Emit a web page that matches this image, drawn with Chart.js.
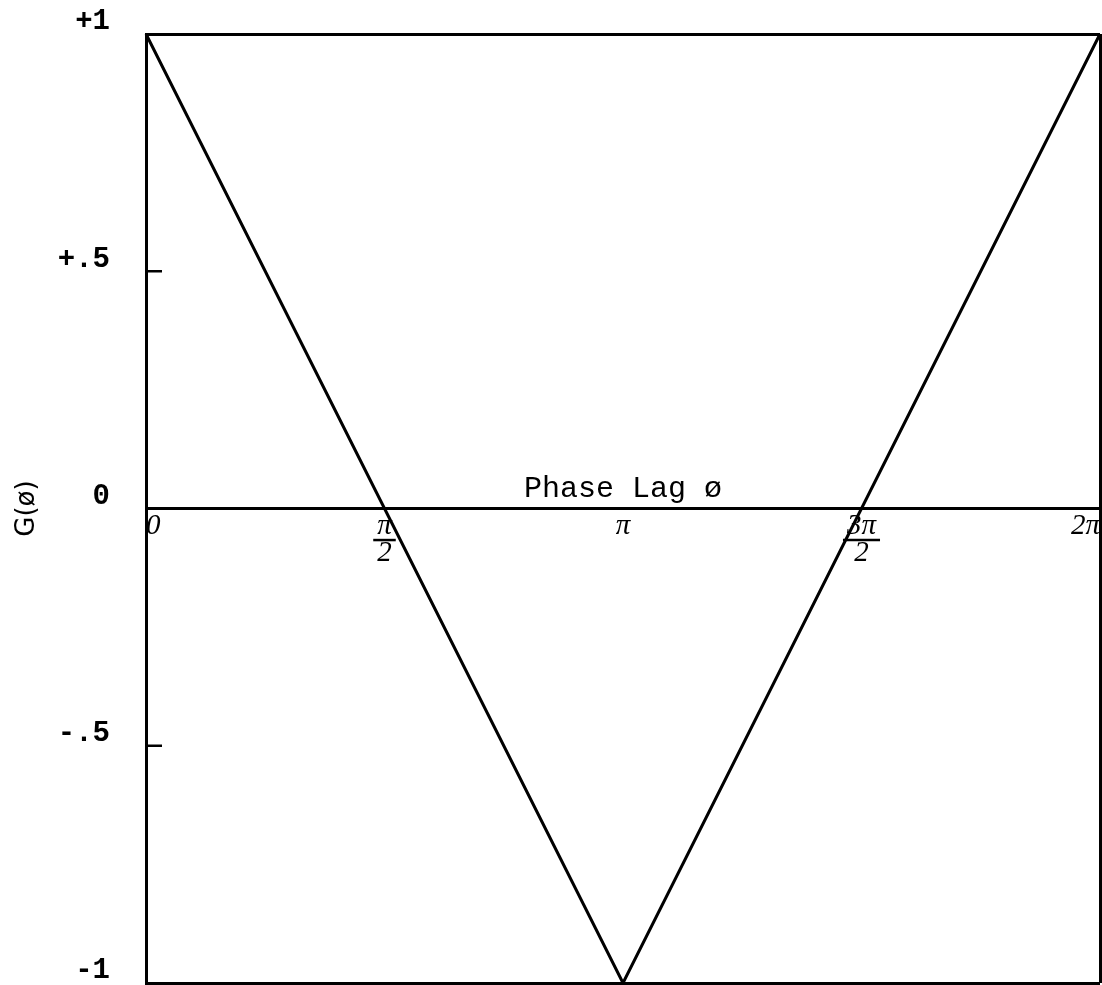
<!DOCTYPE html>
<html>
<head>
<meta charset="utf-8">
<script src="https://cdn.jsdelivr.net/npm/chart.js@4.4.1/dist/chart.umd.min.js"></script>
<style>
  html, body { margin: 0; padding: 0; background: #fff; }
  #wrap { width: 1102px; height: 985px; position: relative; }
</style>
</head>
<body>
<div id="wrap"><canvas id="phaseChart"></canvas></div>
<script>
// ============================================
// DATA — G(ø) against phase lag ø
// ============================================
const phaseValues = [0, Math.PI, 2 * Math.PI];
const gValues     = [1, -1, 1];

const xTickValues = [0, Math.PI / 2, Math.PI, 3 * Math.PI / 2, 2 * Math.PI];
const xTickLabels = ['0', ['π', '2'], 'π', ['3π', '2'], '2π'];
const yTickValues = [1, 0.5, 0, -0.5, -1];
const yTickLabels = ['+1', '+.5', '0', '-.5', '-1'];
const innerTickValues = [0.5, -0.5];
const frameValues = [1, 0, -1];

const xCaption = 'Phase Lag ø';
const yCaption = 'G(ø)';

const xTickFont = { family: '"Liberation Serif", serif', size: 29, style: 'italic', lineHeight: 0.95 };
const xTickPadding = 4;

// extra marks: inner ticks, fraction bars, caption on the zero line
const annotatePlugin = {
    id: 'annotate',
    afterDraw(chart) {
        const { ctx, scales: { x, y } } = chart;
        const zeroPx = y.getPixelForValue(0);
        ctx.save();
        ctx.strokeStyle = '#000';
        ctx.fillStyle = '#000';

        ctx.lineWidth = 2.5;
        innerTickValues.forEach(v => {
            const py = y.getPixelForValue(v);
            ctx.beginPath();
            ctx.moveTo(x.left, py);
            ctx.lineTo(x.left + 16, py);
            ctx.stroke();
        });

        ctx.font = 'italic 29px "Liberation Serif", serif';
        ctx.lineWidth = 2.5;
        xTickValues.forEach((v, i) => {
            const lab = xTickLabels[i];
            if (!Array.isArray(lab)) return;
            const w = ctx.measureText(lab[0]).width + 8;
            const px = x.getPixelForValue(v);
            const by = zeroPx + xTickPadding + xTickFont.size * xTickFont.lineHeight;
            ctx.beginPath();
            ctx.moveTo(px - w / 2, by);
            ctx.lineTo(px + w / 2, by);
            ctx.stroke();
        });

        ctx.font = '30px "Liberation Mono", monospace';
        ctx.textAlign = 'center';
        ctx.textBaseline = 'alphabetic';
        ctx.fillText(xCaption, x.getPixelForValue(Math.PI), zeroPx - 12);
        ctx.restore();
    }
};

Chart.defaults.color = '#000';

document.addEventListener('DOMContentLoaded', () => {
    const canvas = document.getElementById('phaseChart');
    const frameColor = ctx => frameValues.includes(ctx.tick.value) ? '#000' : 'rgba(0,0,0,0)';

    new Chart(canvas.getContext('2d'), {
        type: 'line',
        data: {
            datasets: [{
                label: yCaption,
                data: phaseValues.map((p, i) => ({ x: p, y: gValues[i] })),
                borderColor: '#000',
                borderWidth: 3,
                pointRadius: 0,
                tension: 0,
                fill: false,
                clip: false
            }]
        },
        options: {
            responsive: true,
            maintainAspectRatio: false,
            animation: false,
            layout: { padding: { top: 34, right: 2, bottom: 2, left: 0 } },
            plugins: {
                legend: { display: false },
                tooltip: { enabled: false }
            },
            scales: {
                x: {
                    type: 'linear',
                    position: { y: 0 },
                    min: 0,
                    max: 2 * Math.PI,
                    afterBuildTicks: s => { s.ticks = xTickValues.map(v => ({ value: v })); },
                    afterFit: s => { s.height = 0; s.paddingLeft = 0; s.paddingRight = 0; },
                    grid: {
                        drawTicks: false,
                        lineWidth: 3,
                        color: ctx => (ctx.tick && ctx.tick.value === 2 * Math.PI) ? '#000' : 'rgba(0,0,0,0)'
                    },
                    border: { display: true, color: '#000', width: 3 },
                    ticks: {
                        align: 'inner',
                        maxRotation: 0,
                        autoSkip: false,
                        padding: xTickPadding,
                        font: xTickFont,
                        callback: (v, i) => xTickLabels[i]
                    }
                },
                y: {
                    type: 'linear',
                    min: -1,
                    max: 1,
                    afterBuildTicks: s => { s.ticks = yTickValues.map(v => ({ value: v })); },
                    afterFit: s => { s.width = 146; s.paddingTop = 0; s.paddingBottom = 0; },
                    grid: {
                        drawTicks: false,
                        lineWidth: 3,
                        color: frameColor
                    },
                    border: { display: true, color: '#000', width: 3 },
                    ticks: {
                        padding: 36,
                        labelOffset: -12,
                        autoSkip: false,
                        font: { family: '"Liberation Mono", monospace', size: 29, weight: 'bold' },
                        callback: (v, i) => yTickLabels[i]
                    },
                    title: {
                        display: true,
                        text: yCaption,
                        padding: { top: 12, bottom: 0 },
                        font: { family: '"DejaVu Sans", sans-serif', size: 26 }
                    }
                }
            }
        },
        plugins: [annotatePlugin]
    });
});
</script>
</body>
</html>
